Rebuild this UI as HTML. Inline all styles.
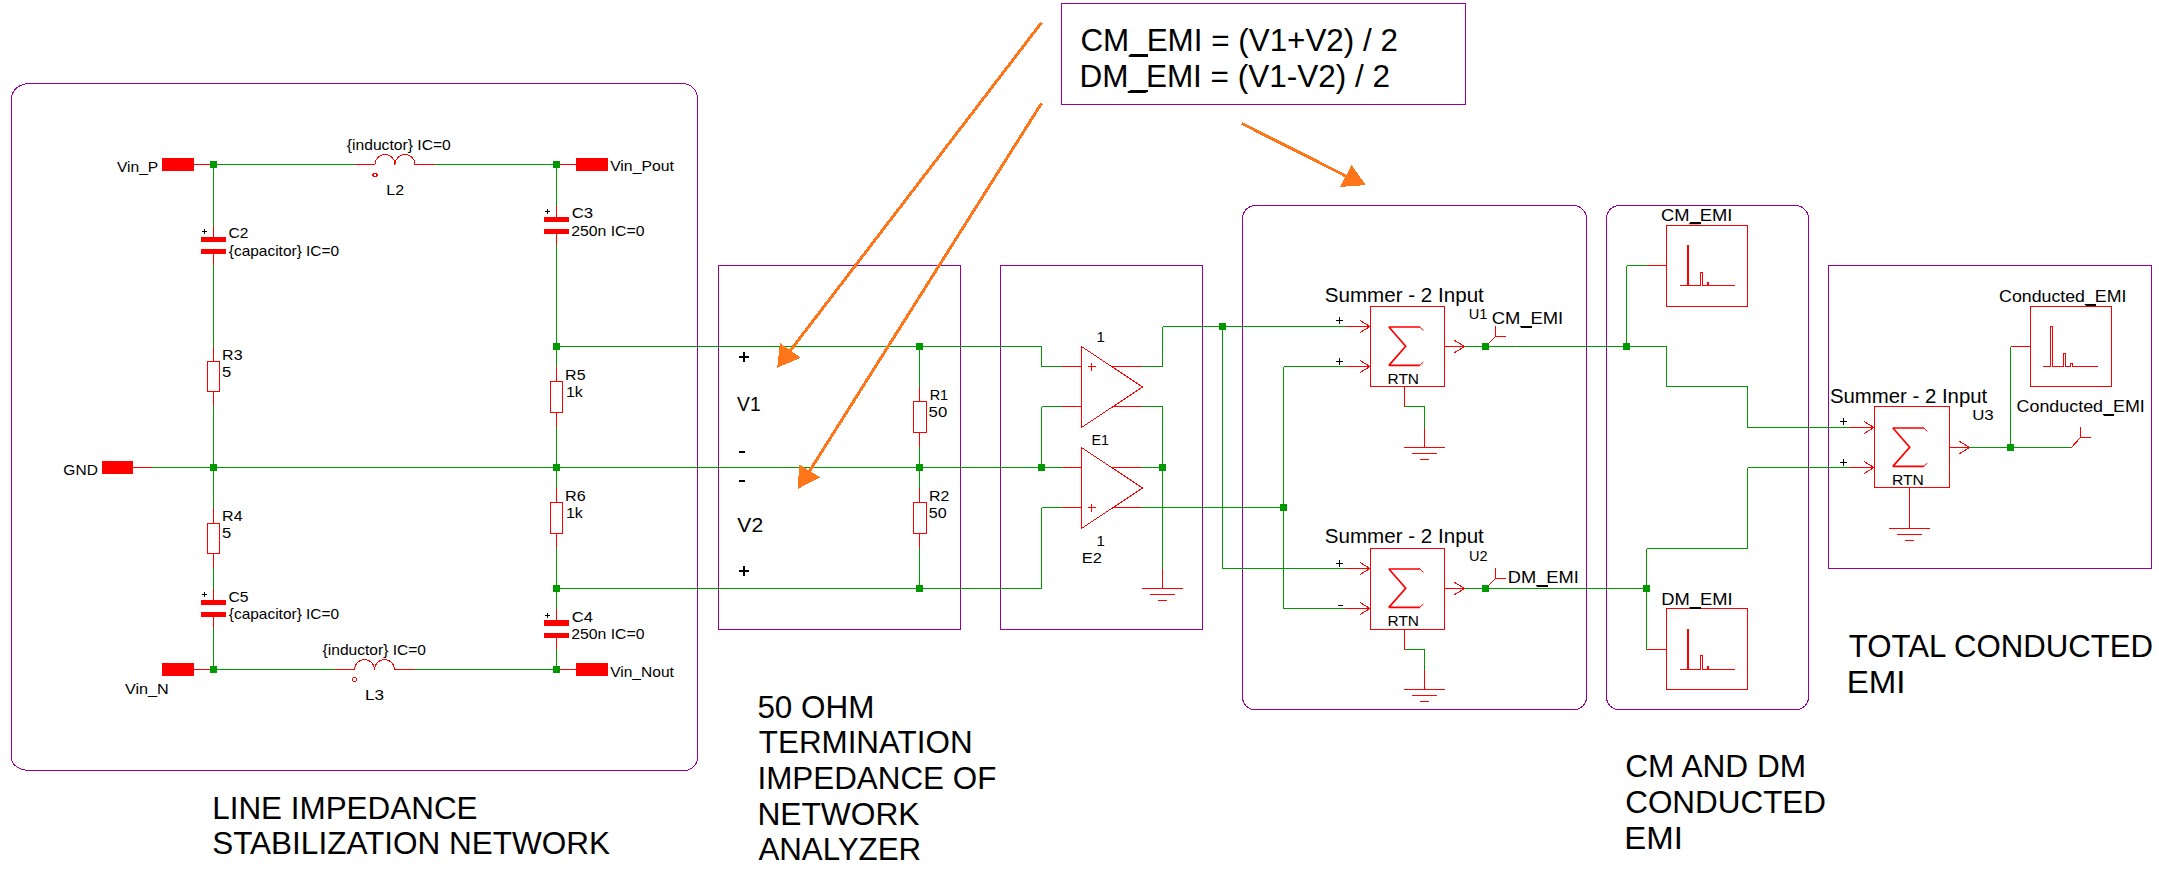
<!DOCTYPE html>
<html><head><meta charset="utf-8"><title>Conducted EMI schematic</title>
<style>
html,body{margin:0;padding:0;background:#ffffff;}
body{width:2159px;height:875px;overflow:hidden;}
svg{display:block;font-family:"Liberation Sans",sans-serif;}
</style></head><body>
<svg width="2159" height="875" viewBox="0 0 2159 875" shape-rendering="crispEdges">
<rect x="0" y="0" width="2159" height="875" fill="#ffffff"/>
<path d="M29.5,83.5 H682.5 A15,15 0 0 1 697.5,98.5 V758.0 A13.5,12.5 0 0 1 684.0,770.5 H29.5 A18,12.5 0 0 1 11.5,758.0 V98.5 A18,15 0 0 1 29.5,83.5 Z" fill="none" stroke="#990099" stroke-width="1"/>
<rect x="718.5" y="265.5" width="242" height="364" fill="none" stroke="#990099" stroke-width="1" rx="0"/>
<rect x="1000.5" y="265.5" width="202" height="364" fill="none" stroke="#990099" stroke-width="1" rx="0"/>
<path d="M1255.5,205.5 H1573.5 A13,13 0 0 1 1586.5,218.5 V697.0 A12,12.5 0 0 1 1574.5,709.5 H1254.5 A12,12.5 0 0 1 1242.5,697.0 V218.5 A13,13 0 0 1 1255.5,205.5 Z" fill="none" stroke="#990099" stroke-width="1"/>
<path d="M1619.5,205.5 H1795.5 A13,13 0 0 1 1808.5,218.5 V697.0 A12,12.5 0 0 1 1796.5,709.5 H1618.5 A12,12.5 0 0 1 1606.5,697.0 V218.5 A13,13 0 0 1 1619.5,205.5 Z" fill="none" stroke="#990099" stroke-width="1"/>
<rect x="1828.5" y="265.5" width="323" height="303" fill="none" stroke="#990099" stroke-width="1" rx="0"/>
<rect x="1061.5" y="3.5" width="404" height="101" fill="none" stroke="#990099" stroke-width="1" rx="0"/>
<line x1="210" y1="164.5" x2="355" y2="164.5" stroke="#009900" stroke-width="1" />
<line x1="435" y1="164.5" x2="556.5" y2="164.5" stroke="#009900" stroke-width="1" />
<line x1="210" y1="669.5" x2="335" y2="669.5" stroke="#009900" stroke-width="1" />
<line x1="414" y1="669.5" x2="556.5" y2="669.5" stroke="#009900" stroke-width="1" />
<line x1="152" y1="467.5" x2="1062" y2="467.5" stroke="#009900" stroke-width="1" />
<line x1="213.5" y1="164.5" x2="213.5" y2="226" stroke="#009900" stroke-width="1" />
<line x1="213.5" y1="265" x2="213.5" y2="347" stroke="#009900" stroke-width="1" />
<line x1="213.5" y1="406" x2="213.5" y2="508" stroke="#009900" stroke-width="1" />
<line x1="213.5" y1="568" x2="213.5" y2="589" stroke="#009900" stroke-width="1" />
<line x1="213.5" y1="628" x2="213.5" y2="669.5" stroke="#009900" stroke-width="1" />
<line x1="556.5" y1="164.5" x2="556.5" y2="206" stroke="#009900" stroke-width="1" />
<line x1="556.5" y1="245" x2="556.5" y2="367" stroke="#009900" stroke-width="1" />
<line x1="556.5" y1="427" x2="556.5" y2="488" stroke="#009900" stroke-width="1" />
<line x1="556.5" y1="548" x2="556.5" y2="609" stroke="#009900" stroke-width="1" />
<line x1="556.5" y1="649" x2="556.5" y2="669.5" stroke="#009900" stroke-width="1" />
<line x1="556.5" y1="346.5" x2="1041.5" y2="346.5" stroke="#009900" stroke-width="1" />
<line x1="1041.5" y1="346.5" x2="1041.5" y2="366.5" stroke="#009900" stroke-width="1" />
<line x1="1041.5" y1="366.5" x2="1062" y2="366.5" stroke="#009900" stroke-width="1" />
<line x1="556.5" y1="588.5" x2="1041.5" y2="588.5" stroke="#009900" stroke-width="1" />
<line x1="1041.5" y1="588.5" x2="1041.5" y2="507.5" stroke="#009900" stroke-width="1" />
<line x1="1041.5" y1="507.5" x2="1062" y2="507.5" stroke="#009900" stroke-width="1" />
<line x1="919.5" y1="346.5" x2="919.5" y2="387" stroke="#009900" stroke-width="1" />
<line x1="919.5" y1="447" x2="919.5" y2="488" stroke="#009900" stroke-width="1" />
<line x1="919.5" y1="548" x2="919.5" y2="588.5" stroke="#009900" stroke-width="1" />
<rect x="162" y="158.0" width="32" height="13" fill="#ff0000" stroke="none" stroke-width="1" rx="0"/>
<line x1="194" y1="164.5" x2="210" y2="164.5" stroke="#ff0000" stroke-width="1" />
<rect x="576" y="158.0" width="32" height="13" fill="#ff0000" stroke="none" stroke-width="1" rx="0"/>
<line x1="560" y1="164.5" x2="576" y2="164.5" stroke="#ff0000" stroke-width="1" />
<rect x="162" y="663.0" width="32" height="13" fill="#ff0000" stroke="none" stroke-width="1" rx="0"/>
<line x1="194" y1="669.5" x2="210" y2="669.5" stroke="#ff0000" stroke-width="1" />
<rect x="576" y="663.0" width="32" height="13" fill="#ff0000" stroke="none" stroke-width="1" rx="0"/>
<line x1="560" y1="669.5" x2="576" y2="669.5" stroke="#ff0000" stroke-width="1" />
<rect x="102" y="461.0" width="31" height="13" fill="#ff0000" stroke="none" stroke-width="1" rx="0"/>
<line x1="133" y1="467.5" x2="152" y2="467.5" stroke="#ff0000" stroke-width="1" />
<path d="M355,164.5 H375 A10,10 0 0 1 395,164.5 A10,10 0 0 1 415,164.5 H435" fill="none" stroke="#ff0000" stroke-width="1"/>
<ellipse cx="375" cy="175" rx="2.2" ry="1.8" fill="none" stroke="#ff0000" stroke-width="1"/>
<path d="M334.5,669.5 H354.5 A10,10 0 0 1 374.5,669.5 A10,10 0 0 1 394.5,669.5 H414.5" fill="none" stroke="#ff0000" stroke-width="1"/>
<ellipse cx="354.5" cy="679.5" rx="2.2" ry="1.8" fill="none" stroke="#ff0000" stroke-width="1"/>
<line x1="213.5" y1="226" x2="213.5" y2="237" stroke="#ff0000" stroke-width="1" />
<rect x="201.0" y="237" width="25" height="5" fill="#ff0000" stroke="none" stroke-width="1" rx="0"/>
<rect x="201.0" y="249" width="25" height="5" fill="#ff0000" stroke="none" stroke-width="1" rx="0"/>
<line x1="213.5" y1="254" x2="213.5" y2="265" stroke="#ff0000" stroke-width="1" />
<line x1="202.0" y1="231.5" x2="207.0" y2="231.5" stroke="#000000" stroke-width="1" />
<line x1="204.5" y1="229" x2="204.5" y2="234" stroke="#000000" stroke-width="1" />
<line x1="556.5" y1="206" x2="556.5" y2="217" stroke="#ff0000" stroke-width="1" />
<rect x="544.0" y="217" width="25" height="5" fill="#ff0000" stroke="none" stroke-width="1" rx="0"/>
<rect x="544.0" y="229" width="25" height="5" fill="#ff0000" stroke="none" stroke-width="1" rx="0"/>
<line x1="556.5" y1="234" x2="556.5" y2="245" stroke="#ff0000" stroke-width="1" />
<line x1="545.0" y1="211.5" x2="550.0" y2="211.5" stroke="#000000" stroke-width="1" />
<line x1="547.5" y1="209" x2="547.5" y2="214" stroke="#000000" stroke-width="1" />
<line x1="213.5" y1="589" x2="213.5" y2="600" stroke="#ff0000" stroke-width="1" />
<rect x="201.0" y="600" width="25" height="5" fill="#ff0000" stroke="none" stroke-width="1" rx="0"/>
<rect x="201.0" y="612" width="25" height="5" fill="#ff0000" stroke="none" stroke-width="1" rx="0"/>
<line x1="213.5" y1="617" x2="213.5" y2="628" stroke="#ff0000" stroke-width="1" />
<line x1="202.0" y1="594.5" x2="207.0" y2="594.5" stroke="#000000" stroke-width="1" />
<line x1="204.5" y1="592" x2="204.5" y2="597" stroke="#000000" stroke-width="1" />
<line x1="556.5" y1="609" x2="556.5" y2="620" stroke="#ff0000" stroke-width="1" />
<rect x="544.0" y="620" width="25" height="6" fill="#ff0000" stroke="none" stroke-width="1" rx="0"/>
<rect x="544.0" y="633" width="25" height="5" fill="#ff0000" stroke="none" stroke-width="1" rx="0"/>
<line x1="556.5" y1="638" x2="556.5" y2="649" stroke="#ff0000" stroke-width="1" />
<line x1="545.0" y1="615.5" x2="550.0" y2="615.5" stroke="#000000" stroke-width="1" />
<line x1="547.5" y1="613" x2="547.5" y2="618" stroke="#000000" stroke-width="1" />
<line x1="213.5" y1="347" x2="213.5" y2="361.0" stroke="#ff0000" stroke-width="1" />
<rect x="207.5" y="361.5" width="12" height="30" fill="none" stroke="#ff0000" stroke-width="1" rx="0"/>
<line x1="213.5" y1="392.0" x2="213.5" y2="406" stroke="#ff0000" stroke-width="1" />
<line x1="213.5" y1="508" x2="213.5" y2="523.0" stroke="#ff0000" stroke-width="1" />
<rect x="207.5" y="523.5" width="12" height="30" fill="none" stroke="#ff0000" stroke-width="1" rx="0"/>
<line x1="213.5" y1="554.0" x2="213.5" y2="568" stroke="#ff0000" stroke-width="1" />
<line x1="556.5" y1="367" x2="556.5" y2="381.0" stroke="#ff0000" stroke-width="1" />
<rect x="550.5" y="381.5" width="12" height="31" fill="none" stroke="#ff0000" stroke-width="1" rx="0"/>
<line x1="556.5" y1="413.0" x2="556.5" y2="427" stroke="#ff0000" stroke-width="1" />
<line x1="556.5" y1="488" x2="556.5" y2="502.0" stroke="#ff0000" stroke-width="1" />
<rect x="550.5" y="502.5" width="12" height="31" fill="none" stroke="#ff0000" stroke-width="1" rx="0"/>
<line x1="556.5" y1="534.0" x2="556.5" y2="548" stroke="#ff0000" stroke-width="1" />
<line x1="919.5" y1="387" x2="919.5" y2="401.0" stroke="#ff0000" stroke-width="1" />
<rect x="913.5" y="401.5" width="13" height="31" fill="none" stroke="#ff0000" stroke-width="1" rx="0"/>
<line x1="919.5" y1="433.0" x2="919.5" y2="447" stroke="#ff0000" stroke-width="1" />
<line x1="919.5" y1="488" x2="919.5" y2="502.0" stroke="#ff0000" stroke-width="1" />
<rect x="913.5" y="502.5" width="13" height="31" fill="none" stroke="#ff0000" stroke-width="1" rx="0"/>
<line x1="919.5" y1="534.0" x2="919.5" y2="548" stroke="#ff0000" stroke-width="1" />
<rect x="210.0" y="161.0" width="7" height="7" fill="#009900" stroke="none" stroke-width="1" rx="0"/>
<rect x="553.0" y="161.0" width="7" height="7" fill="#009900" stroke="none" stroke-width="1" rx="0"/>
<rect x="210.0" y="464.0" width="7" height="7" fill="#009900" stroke="none" stroke-width="1" rx="0"/>
<rect x="553.0" y="464.0" width="7" height="7" fill="#009900" stroke="none" stroke-width="1" rx="0"/>
<rect x="210.0" y="666.0" width="7" height="7" fill="#009900" stroke="none" stroke-width="1" rx="0"/>
<rect x="553.0" y="666.0" width="7" height="7" fill="#009900" stroke="none" stroke-width="1" rx="0"/>
<rect x="553.0" y="343.0" width="7" height="7" fill="#009900" stroke="none" stroke-width="1" rx="0"/>
<rect x="553.0" y="585.0" width="7" height="7" fill="#009900" stroke="none" stroke-width="1" rx="0"/>
<rect x="916.0" y="343.0" width="7" height="7" fill="#009900" stroke="none" stroke-width="1" rx="0"/>
<rect x="916.0" y="464.0" width="7" height="7" fill="#009900" stroke="none" stroke-width="1" rx="0"/>
<rect x="916.0" y="585.0" width="7" height="7" fill="#009900" stroke="none" stroke-width="1" rx="0"/>
<polyline points="1081.5,346.5 1081.5,427.5 1142.5,387.0 1081.5,346.5" fill="none" stroke="#ff0000" stroke-width="1" shape-rendering="crispEdges"/>
<polyline points="1081.5,447.5 1081.5,528.5 1142.5,488.0 1081.5,447.5" fill="none" stroke="#ff0000" stroke-width="1" shape-rendering="crispEdges"/>
<line x1="1062" y1="366.5" x2="1081.5" y2="366.5" stroke="#ff0000" stroke-width="1" />
<line x1="1111.5" y1="366.5" x2="1142" y2="366.5" stroke="#ff0000" stroke-width="1" />
<line x1="1062" y1="406.5" x2="1081.5" y2="406.5" stroke="#ff0000" stroke-width="1" />
<line x1="1111.5" y1="406.5" x2="1142" y2="406.5" stroke="#ff0000" stroke-width="1" />
<line x1="1062" y1="467.5" x2="1081.5" y2="467.5" stroke="#ff0000" stroke-width="1" />
<line x1="1111.5" y1="467.5" x2="1142" y2="467.5" stroke="#ff0000" stroke-width="1" />
<line x1="1062" y1="507.5" x2="1081.5" y2="507.5" stroke="#ff0000" stroke-width="1" />
<line x1="1111.5" y1="507.5" x2="1142" y2="507.5" stroke="#ff0000" stroke-width="1" />
<line x1="1087.5" y1="366.5" x2="1095.5" y2="366.5" stroke="#ff0000" stroke-width="1" />
<line x1="1091.5" y1="362.5" x2="1091.5" y2="370.5" stroke="#ff0000" stroke-width="1" />
<line x1="1087.5" y1="507.5" x2="1095.5" y2="507.5" stroke="#ff0000" stroke-width="1" />
<line x1="1091.5" y1="503.5" x2="1091.5" y2="511.5" stroke="#ff0000" stroke-width="1" />
<line x1="1041.5" y1="406.5" x2="1062" y2="406.5" stroke="#009900" stroke-width="1" />
<line x1="1041.5" y1="406.5" x2="1041.5" y2="467.5" stroke="#009900" stroke-width="1" />
<line x1="1142" y1="366.5" x2="1162.5" y2="366.5" stroke="#009900" stroke-width="1" />
<line x1="1162.5" y1="366.5" x2="1162.5" y2="326.5" stroke="#009900" stroke-width="1" />
<line x1="1162.5" y1="326.5" x2="1345" y2="326.5" stroke="#009900" stroke-width="1" />
<line x1="1142" y1="406.5" x2="1162.5" y2="406.5" stroke="#009900" stroke-width="1" />
<line x1="1162.5" y1="406.5" x2="1162.5" y2="569" stroke="#009900" stroke-width="1" />
<line x1="1142" y1="467.5" x2="1162.5" y2="467.5" stroke="#009900" stroke-width="1" />
<line x1="1142" y1="507.5" x2="1283.5" y2="507.5" stroke="#009900" stroke-width="1" />
<line x1="1162.5" y1="569" x2="1162.5" y2="588.5" stroke="#ff0000" stroke-width="1" />
<line x1="1142.0" y1="588.5" x2="1183.0" y2="588.5" stroke="#ff0000" stroke-width="1" />
<line x1="1150.0" y1="594.5" x2="1175.0" y2="594.5" stroke="#ff0000" stroke-width="1" />
<line x1="1158.0" y1="600.5" x2="1167.0" y2="600.5" stroke="#ff0000" stroke-width="1" />
<rect x="1038.0" y="464.0" width="7" height="7" fill="#009900" stroke="none" stroke-width="1" rx="0"/>
<rect x="1159.0" y="464.0" width="7" height="7" fill="#009900" stroke="none" stroke-width="1" rx="0"/>
<line x1="1222.5" y1="326.5" x2="1222.5" y2="568.5" stroke="#009900" stroke-width="1" />
<line x1="1222.5" y1="568.5" x2="1345" y2="568.5" stroke="#009900" stroke-width="1" />
<line x1="1283.5" y1="366.5" x2="1283.5" y2="608.5" stroke="#009900" stroke-width="1" />
<line x1="1283.5" y1="366.5" x2="1345" y2="366.5" stroke="#009900" stroke-width="1" />
<line x1="1283.5" y1="608.5" x2="1345" y2="608.5" stroke="#009900" stroke-width="1" />
<rect x="1219.0" y="323.0" width="7" height="7" fill="#009900" stroke="none" stroke-width="1" rx="0"/>
<rect x="1280.0" y="504.0" width="7" height="7" fill="#009900" stroke="none" stroke-width="1" rx="0"/>
<rect x="1370.5" y="306.5" width="74" height="80" fill="none" stroke="#ff0000" stroke-width="1" rx="0"/>
<line x1="1345" y1="326.5" x2="1370.5" y2="326.5" stroke="#ff0000" stroke-width="1" />
<path d="M1360.0,320.5 L1369.9,326.5 L1360.0,332.5" fill="none" stroke="#ff0000" stroke-width="1" shape-rendering="crispEdges"/>
<line x1="1345" y1="366.5" x2="1370.5" y2="366.5" stroke="#ff0000" stroke-width="1" />
<path d="M1360.0,360.5 L1369.9,366.5 L1360.0,372.5" fill="none" stroke="#ff0000" stroke-width="1" shape-rendering="crispEdges"/>
<line x1="1444.5" y1="346.5" x2="1465.0" y2="346.5" stroke="#ff0000" stroke-width="1" />
<path d="M1454.0,340.0 L1464.4,346.5 L1454.0,353.0" fill="none" stroke="#ff0000" stroke-width="1" shape-rendering="crispEdges"/>
<path d="M1419.9,327.0 H1388.9 L1405.7,346.2 L1388.9,365.4 H1419.9" fill="none" stroke="#ff0000" stroke-width="1.7" stroke-linejoin="miter" stroke-miterlimit="2" shape-rendering="geometricPrecision"/>
<path d="M1419.4,326.7 L1423.4,330.4 M1419.4,365.7 L1423.4,362.0" fill="none" stroke="#ff0000" stroke-width="1" shape-rendering="geometricPrecision"/>
<line x1="1336.0" y1="320.5" x2="1343.0" y2="320.5" stroke="#000000" stroke-width="1" />
<line x1="1339.5" y1="317.0" x2="1339.5" y2="324.0" stroke="#000000" stroke-width="1" />
<line x1="1336.0" y1="361.5" x2="1343.0" y2="361.5" stroke="#000000" stroke-width="1" />
<line x1="1339.5" y1="358.0" x2="1339.5" y2="365.0" stroke="#000000" stroke-width="1" />
<rect x="1370.5" y="548.5" width="74" height="81" fill="none" stroke="#ff0000" stroke-width="1" rx="0"/>
<line x1="1345" y1="568.5" x2="1370.5" y2="568.5" stroke="#ff0000" stroke-width="1" />
<path d="M1360.0,562.5 L1369.9,568.5 L1360.0,574.5" fill="none" stroke="#ff0000" stroke-width="1" shape-rendering="crispEdges"/>
<line x1="1345" y1="608.5" x2="1370.5" y2="608.5" stroke="#ff0000" stroke-width="1" />
<path d="M1360.0,602.5 L1369.9,608.5 L1360.0,614.5" fill="none" stroke="#ff0000" stroke-width="1" shape-rendering="crispEdges"/>
<line x1="1444.5" y1="588.5" x2="1465.0" y2="588.5" stroke="#ff0000" stroke-width="1" />
<path d="M1454.0,582.0 L1464.4,588.5 L1454.0,595.0" fill="none" stroke="#ff0000" stroke-width="1" shape-rendering="crispEdges"/>
<path d="M1419.9,569.0 H1388.9 L1405.7,588.2 L1388.9,607.4 H1419.9" fill="none" stroke="#ff0000" stroke-width="1.7" stroke-linejoin="miter" stroke-miterlimit="2" shape-rendering="geometricPrecision"/>
<path d="M1419.4,568.7 L1423.4,572.4 M1419.4,607.6999999999999 L1423.4,604.0" fill="none" stroke="#ff0000" stroke-width="1" shape-rendering="geometricPrecision"/>
<line x1="1336.0" y1="563.5" x2="1343.0" y2="563.5" stroke="#000000" stroke-width="1" />
<line x1="1339.5" y1="560.0" x2="1339.5" y2="567.0" stroke="#000000" stroke-width="1" />
<line x1="1338.0" y1="605.5" x2="1343.0" y2="605.5" stroke="#000000" stroke-width="1" />
<rect x="1874.5" y="406.5" width="75" height="81" fill="none" stroke="#ff0000" stroke-width="1" rx="0"/>
<line x1="1849" y1="427.5" x2="1874.5" y2="427.5" stroke="#ff0000" stroke-width="1" />
<path d="M1864.0,421.5 L1873.9,427.5 L1864.0,433.5" fill="none" stroke="#ff0000" stroke-width="1" shape-rendering="crispEdges"/>
<line x1="1849" y1="467.5" x2="1874.5" y2="467.5" stroke="#ff0000" stroke-width="1" />
<path d="M1864.0,461.5 L1873.9,467.5 L1864.0,473.5" fill="none" stroke="#ff0000" stroke-width="1" shape-rendering="crispEdges"/>
<line x1="1949.5" y1="447.5" x2="1970.0" y2="447.5" stroke="#ff0000" stroke-width="1" />
<path d="M1959.0,441.0 L1969.4,447.5 L1959.0,454.0" fill="none" stroke="#ff0000" stroke-width="1" shape-rendering="crispEdges"/>
<path d="M1923.9,428.0 H1892.9 L1909.7,447.2 L1892.9,466.4 H1923.9" fill="none" stroke="#ff0000" stroke-width="1.7" stroke-linejoin="miter" stroke-miterlimit="2" shape-rendering="geometricPrecision"/>
<path d="M1923.4,427.7 L1927.4,431.4 M1923.4,466.7 L1927.4,463.0" fill="none" stroke="#ff0000" stroke-width="1" shape-rendering="geometricPrecision"/>
<line x1="1840.0" y1="421.5" x2="1847.0" y2="421.5" stroke="#000000" stroke-width="1" />
<line x1="1843.5" y1="418.0" x2="1843.5" y2="425.0" stroke="#000000" stroke-width="1" />
<line x1="1840.0" y1="462.5" x2="1847.0" y2="462.5" stroke="#000000" stroke-width="1" />
<line x1="1843.5" y1="459.0" x2="1843.5" y2="466.0" stroke="#000000" stroke-width="1" />
<line x1="1404.5" y1="387" x2="1404.5" y2="406.5" stroke="#ff0000" stroke-width="1" />
<line x1="1404.5" y1="406.5" x2="1424.5" y2="406.5" stroke="#009900" stroke-width="1" />
<line x1="1424.5" y1="406.5" x2="1424.5" y2="428" stroke="#009900" stroke-width="1" />
<line x1="1424.5" y1="428" x2="1424.5" y2="447.5" stroke="#ff0000" stroke-width="1" />
<line x1="1404.0" y1="447.5" x2="1445.0" y2="447.5" stroke="#ff0000" stroke-width="1" />
<line x1="1412.0" y1="453.5" x2="1437.0" y2="453.5" stroke="#ff0000" stroke-width="1" />
<line x1="1420.0" y1="459.5" x2="1429.0" y2="459.5" stroke="#ff0000" stroke-width="1" />
<line x1="1404.5" y1="630" x2="1404.5" y2="649.5" stroke="#ff0000" stroke-width="1" />
<line x1="1404.5" y1="649.5" x2="1424.5" y2="649.5" stroke="#009900" stroke-width="1" />
<line x1="1424.5" y1="649.5" x2="1424.5" y2="670" stroke="#009900" stroke-width="1" />
<line x1="1424.5" y1="670" x2="1424.5" y2="689.5" stroke="#ff0000" stroke-width="1" />
<line x1="1404.0" y1="689.5" x2="1445.0" y2="689.5" stroke="#ff0000" stroke-width="1" />
<line x1="1412.0" y1="695.5" x2="1437.0" y2="695.5" stroke="#ff0000" stroke-width="1" />
<line x1="1420.0" y1="701.5" x2="1429.0" y2="701.5" stroke="#ff0000" stroke-width="1" />
<line x1="1909.5" y1="488" x2="1909.5" y2="528.5" stroke="#ff0000" stroke-width="1" />
<line x1="1889.0" y1="528.5" x2="1930.0" y2="528.5" stroke="#ff0000" stroke-width="1" />
<line x1="1897.0" y1="534.5" x2="1922.0" y2="534.5" stroke="#ff0000" stroke-width="1" />
<line x1="1905.0" y1="540.5" x2="1914.0" y2="540.5" stroke="#ff0000" stroke-width="1" />
<line x1="1465" y1="346.5" x2="1666.5" y2="346.5" stroke="#009900" stroke-width="1" />
<line x1="1666.5" y1="346.5" x2="1666.5" y2="386.5" stroke="#009900" stroke-width="1" />
<line x1="1666.5" y1="386.5" x2="1747.5" y2="386.5" stroke="#009900" stroke-width="1" />
<line x1="1747.5" y1="386.5" x2="1747.5" y2="427.5" stroke="#009900" stroke-width="1" />
<line x1="1747.5" y1="427.5" x2="1849" y2="427.5" stroke="#009900" stroke-width="1" />
<line x1="1465" y1="588.5" x2="1646.5" y2="588.5" stroke="#009900" stroke-width="1" />
<line x1="1646.5" y1="548.5" x2="1646.5" y2="649.5" stroke="#009900" stroke-width="1" />
<line x1="1646.5" y1="548.5" x2="1747.5" y2="548.5" stroke="#009900" stroke-width="1" />
<line x1="1747.5" y1="548.5" x2="1747.5" y2="467.5" stroke="#009900" stroke-width="1" />
<line x1="1747.5" y1="467.5" x2="1849" y2="467.5" stroke="#009900" stroke-width="1" />
<line x1="1626.5" y1="346.5" x2="1626.5" y2="265.5" stroke="#009900" stroke-width="1" />
<line x1="1626.5" y1="265.5" x2="1647" y2="265.5" stroke="#009900" stroke-width="1" />
<line x1="1647" y1="265.5" x2="1666.5" y2="265.5" stroke="#ff0000" stroke-width="1" />
<line x1="1646.5" y1="649.5" x2="1666.5" y2="649.5" stroke="#ff0000" stroke-width="1" />
<line x1="1969" y1="447.5" x2="2071" y2="447.5" stroke="#009900" stroke-width="1" />
<line x1="2010.5" y1="447.5" x2="2010.5" y2="346.5" stroke="#009900" stroke-width="1" />
<line x1="2010.5" y1="346.5" x2="2030.5" y2="346.5" stroke="#ff0000" stroke-width="1" />
<rect x="1482.0" y="343.0" width="7" height="7" fill="#009900" stroke="none" stroke-width="1" rx="0"/>
<rect x="1623.0" y="343.0" width="7" height="7" fill="#009900" stroke="none" stroke-width="1" rx="0"/>
<rect x="1482.0" y="585.0" width="7" height="7" fill="#009900" stroke="none" stroke-width="1" rx="0"/>
<rect x="1643.0" y="585.0" width="7" height="7" fill="#009900" stroke="none" stroke-width="1" rx="0"/>
<rect x="2007.0" y="444.0" width="7" height="7" fill="#009900" stroke="none" stroke-width="1" rx="0"/>
<line x1="1489" y1="343" x2="1495.5" y2="336.5" stroke="#ff0000" stroke-width="1" shape-rendering="crispEdges"/>
<line x1="1495.5" y1="326.0" x2="1495.5" y2="337.0" stroke="#ff0000" stroke-width="1" />
<line x1="1495.0" y1="336.5" x2="1506.0" y2="336.5" stroke="#ff0000" stroke-width="1" />
<line x1="1489" y1="585" x2="1495.5" y2="578.5" stroke="#ff0000" stroke-width="1" shape-rendering="crispEdges"/>
<line x1="1495.5" y1="568.0" x2="1495.5" y2="579.0" stroke="#ff0000" stroke-width="1" />
<line x1="1495.0" y1="578.5" x2="1506.0" y2="578.5" stroke="#ff0000" stroke-width="1" />
<line x1="2070.5" y1="448.5" x2="2080.5" y2="437.5" stroke="#ff0000" stroke-width="1" shape-rendering="crispEdges"/>
<line x1="2080.5" y1="427.0" x2="2080.5" y2="438.0" stroke="#ff0000" stroke-width="1" />
<line x1="2080.0" y1="437.5" x2="2091.0" y2="437.5" stroke="#ff0000" stroke-width="1" />
<rect x="1666.5" y="225.5" width="81" height="81" fill="none" stroke="#ff0000" stroke-width="1" rx="0"/>
<path d="M1680,285.5 H1687.5 V245.5 H1688.5 V285.5 H1700.5 V272.5 H1702.5 V285.5 H1707.5 V282.5 H1708.5 V285.5 H1735" fill="none" stroke="#ff0000" stroke-width="1" stroke-linejoin="miter"/>
<rect x="1666.5" y="608.5" width="81" height="81" fill="none" stroke="#ff0000" stroke-width="1" rx="0"/>
<path d="M1680,669.5 H1687.5 V629.5 H1688.5 V669.5 H1700.5 V655.5 H1702.5 V669.5 H1707.5 V666.5 H1708.5 V669.5 H1735" fill="none" stroke="#ff0000" stroke-width="1" stroke-linejoin="miter"/>
<rect x="2030.5" y="306.5" width="81" height="80" fill="none" stroke="#ff0000" stroke-width="1" rx="0"/>
<path d="M2043,366.5 H2050.5 V326.5 H2052.5 V366.5 H2063.5 V353.5 H2065.5 V366.5 H2070.5 V363.5 H2072.5 V366.5 H2098" fill="none" stroke="#ff0000" stroke-width="1" stroke-linejoin="miter"/>
<text id="f1" x="1080.41" y="51" font-size="31.5" textLength="317.51" lengthAdjust="spacingAndGlyphs">CM_EMI = (V1+V2) / 2</text>
<text id="f2" x="1079.40" y="87" font-size="31.5" textLength="310.62" lengthAdjust="spacingAndGlyphs">DM_EMI = (V1-V2) / 2</text>
<text id="b1" x="212.21" y="819" font-size="31.5" textLength="265.35" lengthAdjust="spacingAndGlyphs">LINE IMPEDANCE</text>
<text id="b2" x="212.20" y="854" font-size="31.5" textLength="397.86" lengthAdjust="spacingAndGlyphs">STABILIZATION NETWORK</text>
<text id="b3" x="757.40" y="718" font-size="31.5" textLength="116.97" lengthAdjust="spacingAndGlyphs">50 OHM</text>
<text id="b4" x="758.80" y="753" font-size="31.5" textLength="213.74" lengthAdjust="spacingAndGlyphs">TERMINATION</text>
<text id="b5" x="757.41" y="789" font-size="31.5" textLength="238.96" lengthAdjust="spacingAndGlyphs">IMPEDANCE OF</text>
<text id="b6" x="757.38" y="824.5" font-size="31.5" textLength="162.13" lengthAdjust="spacingAndGlyphs">NETWORK</text>
<text id="b7" x="758.40" y="860" font-size="31.5" textLength="162.65" lengthAdjust="spacingAndGlyphs">ANALYZER</text>
<text id="b8" x="1848.81" y="656.6" font-size="31.5" textLength="304.31" lengthAdjust="spacingAndGlyphs">TOTAL CONDUCTED</text>
<text id="b9" x="1846.67" y="692.8" font-size="31.5" textLength="58.82" lengthAdjust="spacingAndGlyphs">EMI</text>
<text id="b10" x="1625.19" y="777" font-size="31.5" textLength="180.97" lengthAdjust="spacingAndGlyphs">CM AND DM</text>
<text id="b11" x="1625.20" y="812.8" font-size="31.5" textLength="200.84" lengthAdjust="spacingAndGlyphs">CONDUCTED</text>
<text id="b12" x="1624.25" y="848.5" font-size="31.5" textLength="58.59" lengthAdjust="spacingAndGlyphs">EMI</text>
<text id="s1" x="1324.75" y="301.7" font-size="20" textLength="159.09" lengthAdjust="spacingAndGlyphs">Summer - 2 Input</text>
<text id="s2" x="1324.75" y="543.1" font-size="20" textLength="159.09" lengthAdjust="spacingAndGlyphs">Summer - 2 Input</text>
<text id="s3" x="1829.96" y="403.2" font-size="20" textLength="157.26" lengthAdjust="spacingAndGlyphs">Summer - 2 Input</text>
<text id="n1" x="1491.67" y="323.8" font-size="17" textLength="71.58" lengthAdjust="spacingAndGlyphs">CM_EMI</text>
<text id="n2" x="1507.85" y="583.2" font-size="17" textLength="70.92" lengthAdjust="spacingAndGlyphs">DM_EMI</text>
<text id="n3" x="1661.09" y="220.5" font-size="17" textLength="71.27" lengthAdjust="spacingAndGlyphs">CM_EMI</text>
<text id="n4" x="1661.30" y="604.6" font-size="17" textLength="71.27" lengthAdjust="spacingAndGlyphs">DM_EMI</text>
<text id="n5" x="1999.14" y="301.8" font-size="17" textLength="127.23" lengthAdjust="spacingAndGlyphs">Conducted_EMI</text>
<text id="n6" x="2016.54" y="411.8" font-size="17" textLength="128.26" lengthAdjust="spacingAndGlyphs">Conducted_EMI</text>
<text id="v1" x="737.04" y="411" font-size="20" textLength="23.58" lengthAdjust="spacingAndGlyphs">V1</text>
<text id="v2" x="737.36" y="531.5" font-size="20" textLength="25.80" lengthAdjust="spacingAndGlyphs">V2</text>
<text id="r1" x="1387.52" y="383.5" font-size="14.5" textLength="31.52" lengthAdjust="spacingAndGlyphs">RTN</text>
<text id="r2" x="1387.52" y="626.4" font-size="14.5" textLength="31.52" lengthAdjust="spacingAndGlyphs">RTN</text>
<text id="r3" x="1892.09" y="484.7" font-size="14.5" textLength="31.84" lengthAdjust="spacingAndGlyphs">RTN</text>
<text id="u1" x="1468.79" y="318.7" font-size="14.5" textLength="18.66" lengthAdjust="spacingAndGlyphs">U1</text>
<text id="u2" x="1469.00" y="560.6" font-size="14.5" textLength="18.55" lengthAdjust="spacingAndGlyphs">U2</text>
<text id="u3" x="1972.19" y="419.8" font-size="14.5" textLength="21.56" lengthAdjust="spacingAndGlyphs">U3</text>
<text id="p1" x="116.96" y="171.5" font-size="15" textLength="41.23" lengthAdjust="spacingAndGlyphs">Vin_P</text>
<text id="p2" x="610.15" y="171.4" font-size="15" textLength="63.69" lengthAdjust="spacingAndGlyphs">Vin_Pout</text>
<text id="p3" x="124.92" y="694" font-size="15" textLength="43.80" lengthAdjust="spacingAndGlyphs">Vin_N</text>
<text id="p4" x="610.17" y="677" font-size="15" textLength="63.69" lengthAdjust="spacingAndGlyphs">Vin_Nout</text>
<text id="p5" x="63.37" y="475" font-size="15" textLength="34.49" lengthAdjust="spacingAndGlyphs">GND</text>
<text id="l1" x="346.77" y="150" font-size="15" textLength="104.03" lengthAdjust="spacingAndGlyphs">{inductor} IC=0</text>
<text id="l2" x="386.32" y="194.8" font-size="15" textLength="17.76" lengthAdjust="spacingAndGlyphs">L2</text>
<text id="l3" x="322.57" y="655" font-size="15" textLength="103.42" lengthAdjust="spacingAndGlyphs">{inductor} IC=0</text>
<text id="l4" x="365.00" y="699.8" font-size="15" textLength="19.07" lengthAdjust="spacingAndGlyphs">L3</text>
<text id="c1" x="228.56" y="237.7" font-size="15" textLength="19.86" lengthAdjust="spacingAndGlyphs">C2</text>
<text id="c2" x="228.78" y="256" font-size="15" textLength="110.39" lengthAdjust="spacingAndGlyphs">{capacitor} IC=0</text>
<text id="c3" x="571.67" y="217.6" font-size="15" textLength="21.44" lengthAdjust="spacingAndGlyphs">C3</text>
<text id="c4" x="571.15" y="235.6" font-size="15" textLength="73.43" lengthAdjust="spacingAndGlyphs">250n IC=0</text>
<text id="c5" x="228.54" y="602" font-size="15" textLength="20.09" lengthAdjust="spacingAndGlyphs">C5</text>
<text id="c6" x="228.78" y="619" font-size="15" textLength="110.39" lengthAdjust="spacingAndGlyphs">{capacitor} IC=0</text>
<text id="c7" x="571.68" y="621.6" font-size="15" textLength="21.22" lengthAdjust="spacingAndGlyphs">C4</text>
<text id="c8" x="571.15" y="639" font-size="15" textLength="73.43" lengthAdjust="spacingAndGlyphs">250n IC=0</text>
<text id="q1" x="222.11" y="359.7" font-size="15" textLength="20.43" lengthAdjust="spacingAndGlyphs">R3</text>
<text id="q2" x="222.06" y="376.8" font-size="15" textLength="9.18" lengthAdjust="spacingAndGlyphs">5</text>
<text id="q3" x="565.11" y="379.7" font-size="15" textLength="20.43" lengthAdjust="spacingAndGlyphs">R5</text>
<text id="q4" x="565.90" y="397" font-size="15" textLength="16.86" lengthAdjust="spacingAndGlyphs">1k</text>
<text id="q5" x="222.11" y="520.8" font-size="15" textLength="20.43" lengthAdjust="spacingAndGlyphs">R4</text>
<text id="q6" x="222.06" y="537.8" font-size="15" textLength="9.18" lengthAdjust="spacingAndGlyphs">5</text>
<text id="q7" x="565.09" y="500.7" font-size="15" textLength="20.65" lengthAdjust="spacingAndGlyphs">R6</text>
<text id="q8" x="565.90" y="518" font-size="15" textLength="16.86" lengthAdjust="spacingAndGlyphs">1k</text>
<text id="q9" x="929.64" y="399.6" font-size="15" textLength="18.51" lengthAdjust="spacingAndGlyphs">R1</text>
<text id="q10" x="928.62" y="417" font-size="15" textLength="18.59" lengthAdjust="spacingAndGlyphs">50</text>
<text id="q11" x="928.91" y="500.9" font-size="15" textLength="20.32" lengthAdjust="spacingAndGlyphs">R2</text>
<text id="q12" x="928.89" y="518" font-size="15" textLength="17.88" lengthAdjust="spacingAndGlyphs">50</text>
<text id="e1" x="1096.5" y="341.7" font-size="15">1</text>
<text id="e2" x="1091.48" y="444.9" font-size="15" textLength="17.56" lengthAdjust="spacingAndGlyphs">E1</text>
<text id="e3" x="1096.5" y="545.5" font-size="15">1</text>
<text id="e4" x="1081.80" y="563.4" font-size="15" textLength="20.20" lengthAdjust="spacingAndGlyphs">E2</text>
<rect x="739" y="356" width="10" height="2" fill="#000000" stroke="none" stroke-width="1" rx="0"/>
<rect x="743" y="352" width="2" height="10" fill="#000000" stroke="none" stroke-width="1" rx="0"/>
<rect x="739" y="570" width="10" height="2" fill="#000000" stroke="none" stroke-width="1" rx="0"/>
<rect x="743" y="566" width="2" height="10" fill="#000000" stroke="none" stroke-width="1" rx="0"/>
<rect x="739" y="451" width="6" height="2" fill="#000000" stroke="none" stroke-width="1" rx="0"/>
<rect x="739" y="480" width="6" height="2" fill="#000000" stroke="none" stroke-width="1" rx="0"/>
<line x1="1041.5" y1="22.6" x2="789.2" y2="352.0" stroke="#ff7519" stroke-width="3" shape-rendering="crispEdges"/>
<polygon points="780,343 800.8,357.8 777.2,367.7" fill="#ff7519" shape-rendering="crispEdges"/>
<line x1="1041.5" y1="103.3" x2="808.6" y2="472.5" stroke="#ff7519" stroke-width="3" shape-rendering="crispEdges"/>
<polygon points="799.2,464.4 820.2,477.3 797.7,489" fill="#ff7519" shape-rendering="crispEdges"/>
<line x1="1241.8" y1="123.4" x2="1347.6" y2="176.9" stroke="#ff7519" stroke-width="3" shape-rendering="crispEdges"/>
<polygon points="1351.6,165 1340.1,186.9 1365.8,185.1" fill="#ff7519" shape-rendering="crispEdges"/>
<rect x="1521" y="326" width="11" height="2" fill="#000000" stroke="none" stroke-width="1" rx="0"/>
<rect x="1537" y="585" width="11" height="2" fill="#000000" stroke="none" stroke-width="1" rx="0"/>
<rect x="1690" y="222" width="11" height="2" fill="#000000" stroke="none" stroke-width="1" rx="0"/>
<rect x="1690" y="607" width="11" height="2" fill="#000000" stroke="none" stroke-width="1" rx="0"/>
<rect x="2086" y="304" width="10" height="2" fill="#000000" stroke="none" stroke-width="1" rx="0"/>
<rect x="2104" y="414" width="10" height="2" fill="#000000" stroke="none" stroke-width="1" rx="0"/>
<rect x="1130" y="54" width="17.5" height="2.6" fill="#000000" stroke="none" stroke-width="1" rx="0"/>
<rect x="1130" y="89.7" width="17.5" height="2.6" fill="#000000" stroke="none" stroke-width="1" rx="0"/>
</svg>
</body></html>
